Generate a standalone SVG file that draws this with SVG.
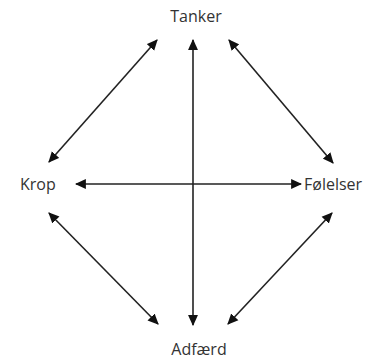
<svg xmlns="http://www.w3.org/2000/svg" width="392" height="360" viewBox="0 0 392 360">
<defs>
<marker id="ah" viewBox="0 0 10 10" refX="9" refY="5" markerWidth="11" markerHeight="11" markerUnits="userSpaceOnUse" orient="auto-start-reverse">
<path d="M0,0.5 L10,5 L0,9.5 z" fill="#111"/>
</marker>
<style>
.lbl{font-family:"Open Sans","Liberation Sans",sans-serif;font-size:16px;font-weight:500;fill:#333;}
.c{stroke:#222;stroke-width:1.6;fill:none;marker-start:url(#ah);marker-end:url(#ah);}
</style>
</defs>
<rect width="392" height="360" fill="#fff"/>
<g id="connectors">
<line class="c" x1="193" y1="40" x2="193" y2="325"/>
<line class="c" x1="76" y1="184" x2="301" y2="184"/>
<line class="c" x1="157" y1="40" x2="49" y2="162"/>
<line class="c" x1="229" y1="40" x2="333" y2="163"/>
<line class="c" x1="49" y1="213" x2="158" y2="324"/>
<line class="c" x1="332" y1="213" x2="228" y2="324"/>
</g>
<g id="tanker"><text class="lbl" x="196" y="22" text-anchor="middle">Tanker</text></g>
<g id="krop"><text class="lbl" x="20" y="190">Krop</text></g>
<g id="folelser"><text class="lbl" x="304" y="190">Følelser</text></g>
<g id="adfaerd"><text class="lbl" x="199" y="355" text-anchor="middle">Adfærd</text></g>
</svg>
